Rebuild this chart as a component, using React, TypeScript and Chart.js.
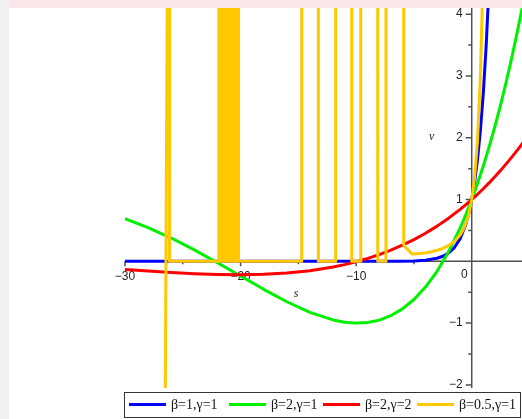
import React, { useEffect, useRef } from "react";
import { Chart, registerables } from "chart.js";
Chart.register(...registerables);

// ---- data ----
const blueS = [-30, -25, -20, -15, -10, -8, -6, -5, -4, -3, -2.5, -2, -1.5, -1, -0.5, -0.25, 0, 0.25, 0.5, 0.75, 1, 1.25, 1.5];
const blueV = [0, 0, 0, 0, 0.00005, 0.0003, 0.0025, 0.0067, 0.0183, 0.0498, 0.0821, 0.1353, 0.2231, 0.3679, 0.6065, 0.7788, 1, 1.284, 1.6487, 2.117, 2.7183, 3.4903, 4.4817];

const greenS = [-30, -28, -26, -24, -22, -20, -18, -16, -14, -12, -11, -10, -9, -8, -7, -6, -5, -4, -3, -2, -1, -0.5, 0, 0.5, 1, 1.5, 2, 2.5, 3, 3.5, 4, 4.5];
const greenV = [0.692, 0.547, 0.377, 0.186, -0.022, -0.238, -0.453, -0.654, -0.825, -0.948, -0.985, -1.0, -0.99, -0.951, -0.88, -0.77, -0.618, -0.416, -0.161, 0.156, 0.54, 0.76, 1, 1.261, 1.543, 1.848, 2.178, 2.533, 2.915, 3.324, 3.762, 4.231];

const redS = [-30, -28, -26, -24, -22, -20, -18, -16, -14, -12, -11, -10, -9, -8, -7, -6, -5, -4, -3, -2, -1, -0.5, 0, 0.5, 1, 1.5, 2, 2.5, 3, 3.5, 4, 4.5];
const redV = [-0.132, -0.158, -0.182, -0.201, -0.213, -0.217, -0.21, -0.189, -0.151, -0.092, -0.053, -0.007, 0.047, 0.109, 0.18, 0.261, 0.352, 0.455, 0.57, 0.699, 0.841, 0.919, 1, 1.085, 1.175, 1.269, 1.369, 1.472, 1.581, 1.694, 1.813, 1.938];

const orangeS = [
  -26.535, -26.3, -26.15, -26.15,
  -21.88, -21.88, -21.69, -21.69, -21.5, -21.5, -21.31, -21.31, -21.12, -21.12,
  -20.94, -20.94, -20.75, -20.75, -20.56, -20.56, -20.37, -20.37, -20.18, -20.18,
  -14.71, -14.71, -13.27, -13.27, -11.77, -11.77, -10.38, -10.38,
  -9.6, -9.6, -8.13, -8.13, -7.42, -7.42, -5.88, -5.88,
  -5.17, -4.5, -4, -3.5, -3, -2.5, -2, -1.5, -1, -0.75, -0.5, -0.25, 0, 0.25, 0.5, 0.75, 0.9, 1,
];
const orangeV = [
  -3, 6, 6, 0,
  0, 6, 6, 0, 0, 6, 6, 0, 0, 6,
  6, 0, 0, 6, 6, 0, 0, 6, 6, 0,
  0, 6, 6, 0, 0, 6, 6, 0,
  0, 6, 6, 0, 0, 6, 6, 0.26,
  0.12, 0.125, 0.137, 0.155, 0.179, 0.211, 0.255, 0.322, 0.428, 0.507, 0.616, 0.77, 1, 1.359, 1.952, 3.003, 4.04, 5.01,
];

const seriesLabels = ["β=1,γ=1", "β=2,γ=1", "β=2,γ=2", "β=0.5,γ=1"];
const seriesColors = ["#0000ff", "#00f000", "#ff0000", "#ffc800"];

const xMajorTicks = [-30, -20, -10];
const xMinorTicks = [-25, -15, -5];
const yMajorTicks = [-2, -1, 1, 2, 3, 4];
const yMinorTicks = [-1.5, -0.5, 0.5, 1.5, 2.5, 3.5];
const xTickLabels = ["−30", "−20", "−10"];
const yTickLabels = ["−2", "−1", "1", "2", "3", "4"];

const W = 522;
const H = 419;

const pts = (s: number[], v: number[]) => s.map((x, i) => ({ x, y: v[i] }));

const decor = {
  id: "decor",
  beforeDraw(chart: any) {
    const ctx = chart.ctx as CanvasRenderingContext2D;
    ctx.save();
    ctx.fillStyle = "#ffffff";
    ctx.fillRect(0, 0, W, H);
    ctx.fillStyle = "#f9e6e8";
    ctx.fillRect(0, 0, W, 8);
    ctx.fillStyle = "#f1f1f1";
    ctx.fillRect(0, 0, 9, H);
    ctx.restore();
  },
  beforeDatasetsDraw(chart: any) {
    const ctx = chart.ctx as CanvasRenderingContext2D;
    const xs = chart.scales.x;
    const ys = chart.scales.y;
    const x0 = xs.getPixelForValue(0);
    const y0 = ys.getPixelForValue(0);
    ctx.save();
    ctx.strokeStyle = "#505050";
    ctx.lineWidth = 1.5;
    ctx.beginPath();
    ctx.moveTo(xs.left, y0);
    ctx.lineTo(xs.right, y0);
    ctx.moveTo(x0, ys.top);
    ctx.lineTo(x0, ys.bottom);
    xMajorTicks.forEach((v) => {
      const p = xs.getPixelForValue(v);
      ctx.moveTo(p, y0);
      ctx.lineTo(p, y0 + 5);
    });
    xMinorTicks.forEach((v) => {
      const p = xs.getPixelForValue(v);
      ctx.moveTo(p, y0);
      ctx.lineTo(p, y0 + 3);
    });
    yMajorTicks.forEach((v) => {
      const p = ys.getPixelForValue(v);
      ctx.moveTo(x0, p);
      ctx.lineTo(x0 - 6, p);
    });
    yMinorTicks.forEach((v) => {
      const p = ys.getPixelForValue(v);
      ctx.moveTo(x0, p);
      ctx.lineTo(x0 - 3.5, p);
    });
    ctx.stroke();

    ctx.fillStyle = "#222";
    ctx.font = '12px "Liberation Sans", Arial, sans-serif';
    ctx.textBaseline = "middle";
    ctx.textAlign = "center";
    xMajorTicks.forEach((v, i) => {
      ctx.fillText(xTickLabels[i], xs.getPixelForValue(v), y0 + 15.5);
    });
    ctx.textAlign = "right";
    ctx.fillText("0", x0 - 4, y0 + 13);
    yMajorTicks.forEach((v, i) => {
      ctx.fillText(yTickLabels[i], x0 - 9, ys.getPixelForValue(v));
    });
    ctx.textAlign = "center";
    ctx.font = 'italic 12px "Liberation Serif", "Times New Roman", serif';
    ctx.fillText("s", xs.getPixelForValue(-15.2), y0 + 33);
    ctx.fillText("v", x0 - 40, ys.getPixelForValue(2.02));
    ctx.restore();
  },
  afterDraw(chart: any) {
    const ctx = chart.ctx as CanvasRenderingContext2D;
    ctx.save();
    ctx.strokeStyle = "#333";
    ctx.lineWidth = 1;
    ctx.strokeRect(124.5, 392.5, 396, 25);
    const swX = [129, 229, 323, 417];
    ctx.font = '14px "Liberation Serif", "Times New Roman", serif';
    ctx.textBaseline = "middle";
    ctx.textAlign = "left";
    seriesLabels.forEach((lab, i) => {
      ctx.strokeStyle = seriesColors[i];
      ctx.lineWidth = 3;
      ctx.beginPath();
      ctx.moveTo(swX[i], 404.5);
      ctx.lineTo(swX[i] + 37, 404.5);
      ctx.stroke();
      ctx.fillStyle = "#111";
      ctx.fillText(lab, swX[i] + 42, 405.5);
    });
    ctx.restore();
  },
};

export default function App() {
  const ref = useRef<HTMLCanvasElement>(null);
  useEffect(() => {
    const mk = (i: number, data: { x: number; y: number }[], order: number) => ({
      label: seriesLabels[i],
      data,
      borderColor: seriesColors[i],
      backgroundColor: seriesColors[i],
      borderWidth: 3,
      pointRadius: 0,
      tension: 0,
      fill: false,
      clip: 0,
      order,
      borderJoinStyle: "round" as const,
    });
    const chart = new Chart(ref.current!, {
      type: "line",
      data: {
        datasets: [
          mk(0, pts(blueS, blueV), 4),
          mk(1, pts(greenS, greenV), 3),
          mk(2, pts(redS, redV), 2),
          mk(3, pts(orangeS, orangeV), 1),
        ],
      },
      options: {
        responsive: false,
        animation: false,
        devicePixelRatio: 1,
        layout: { padding: { left: 125, top: 8, right: 0, bottom: 31 } },
        plugins: { legend: { display: false }, tooltip: { enabled: false } },
        scales: {
          x: { type: "linear", min: -30, max: 4.35, display: false },
          y: { type: "linear", min: -2.05, max: 4.1, display: false },
        },
      },
      plugins: [decor],
    });
    return () => chart.destroy();
  }, []);
  return (
    <div style={{ position: "fixed", left: 0, top: 0, width: W, height: H }}>
      <canvas ref={ref} width={W} height={H} style={{ display: "block" }} />
    </div>
  );
}
